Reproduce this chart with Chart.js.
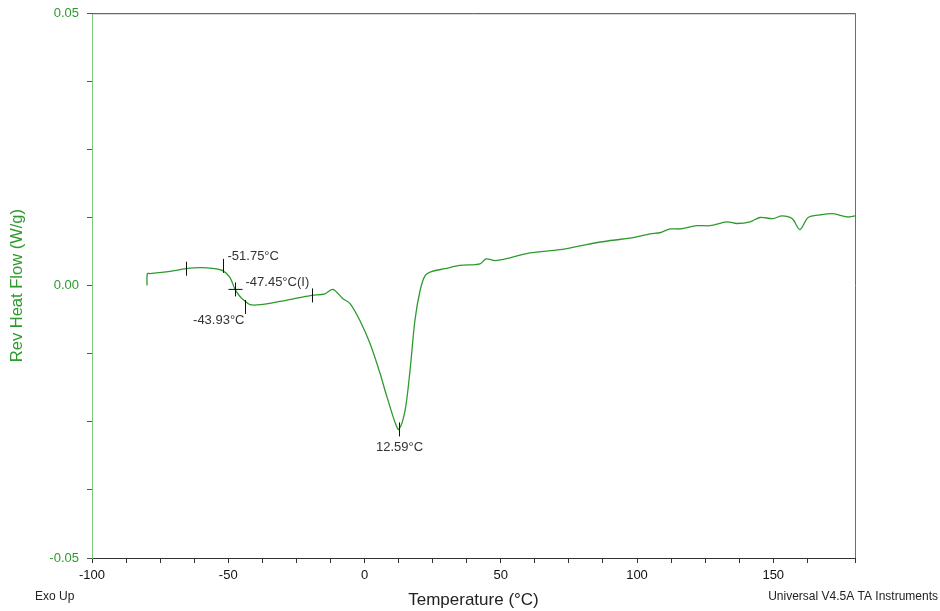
<!DOCTYPE html>
<html>
<head>
<meta charset="utf-8">
<script src="https://cdn.jsdelivr.net/npm/chart.js@4.4.0/dist/chart.umd.min.js"></script>
<style>
  html, body { margin: 0; padding: 0; background: #fff; }
  #wrap { width: 940px; height: 611px; }
</style>
</head>
<body>
<div id="wrap"><canvas id="dscChart" width="940" height="611"></canvas></div>
<script>
// Temperature (°C) and reversing heat flow (W/g)
const temps = [-79.8, -79.7, -78.7, -71.4, -65.5, -60.4, -54.9, -51.9, -49.4, -47.5, -45.7, -44.2, -42.0, -38.3,
  -31.0, -23.7, -19.3, -14.5, -11.6, -7.9, -5.3, -1.7, 2.0, 5.7, 7.5, 9.4, 11.2, 12.6, 14.9, 16.7, 18.5, 20.4,
  22.2, 24.8, 29.5, 35.0, 42.4, 44.6, 47.9, 53.4, 60.7, 71.7, 79.1, 86.4, 98.5, 104.8, 108.4, 112.1, 115.8,
  122.0, 126.8, 133.0, 136.7, 141.5, 145.1, 149.9, 153.2, 156.9, 159.8, 162.8, 167.2, 171.9, 177.1, 180.0];
const heatFlow = [0.0000, 0.0022, 0.0022, 0.0026, 0.0031, 0.0033, 0.0031, 0.0027, 0.0015, -0.0007, -0.0020,
  -0.0027, -0.0035, -0.0035, -0.0029, -0.0022, -0.0018, -0.0015, -0.0007, -0.0024, -0.0033, -0.0064, -0.0106,
  -0.0161, -0.0192, -0.0223, -0.0251, -0.0264, -0.0229, -0.0156, -0.0064, -0.0009, 0.0018, 0.0026, 0.0031,
  0.0037, 0.0040, 0.0049, 0.0046, 0.0051, 0.0060, 0.0066, 0.0073, 0.0080, 0.0088, 0.0095, 0.0097, 0.0104,
  0.0104, 0.0110, 0.0110, 0.0117, 0.0114, 0.0117, 0.0125, 0.0123, 0.0128, 0.0123, 0.0103, 0.0125, 0.0130,
  0.0132, 0.0126, 0.0128];

// analysis markers: temperature, heat flow, kind
const markerTemps = [-65.5, -51.75, -47.45, -43.93, -19.3, 12.59];
const markerFlows = [0.0031, 0.0027, -0.0007, -0.0030, -0.0018, -0.0264];
const markerKinds = ['tick', 'tick', 'cross', 'tick', 'tick', 'tick'];
const markerLabels = ['', '-51.75°C', '-47.45°C(I)', '-43.93°C', '', '12.59°C'];

const xTickLabels = [-100, -50, 0, 50, 100, 150];
const yTickLabels = [-0.05, 0.00, 0.05];

const green = '#2e9a2e';
const font = "'Liberation Sans', Arial, sans-serif";

const points = temps.map((t, i) => ({ x: t, y: heatFlow[i] }));

const annotations = {
  id: 'annotations',
  afterDatasetsDraw(chart) {
    const ctx = chart.ctx;
    const xs = chart.scales.x, ys = chart.scales.y;
    const a = chart.chartArea;
    ctx.save();
    // frame: top dark, right green
    ctx.lineWidth = 1;
    ctx.strokeStyle = '#444';
    ctx.beginPath(); ctx.moveTo(a.left, a.top + 0.5); ctx.lineTo(a.right, a.top + 0.5); ctx.stroke();
    ctx.strokeStyle = green;
    ctx.beginPath(); ctx.moveTo(a.right + 0.5, a.top); ctx.lineTo(a.right + 0.5, a.bottom); ctx.stroke();

    ctx.strokeStyle = '#111';
    ctx.fillStyle = '#333';
    ctx.font = '13px ' + font;
    markerTemps.forEach((t, i) => {
      const px = Math.round(xs.getPixelForValue(t)) + 0.5;
      const py = ys.getPixelForValue(markerFlows[i]);
      ctx.beginPath();
      if (markerKinds[i] === 'cross') {
        ctx.moveTo(px, py - 7); ctx.lineTo(px, py + 7);
        ctx.moveTo(px - 7, py); ctx.lineTo(px + 7, py);
      } else if (i === 1) {
        ctx.moveTo(px, py - 12); ctx.lineTo(px, py + 2);
      } else if (i === 3) {
        ctx.moveTo(px, py - 2); ctx.lineTo(px, py + 12);
      } else {
        ctx.moveTo(px, py - 7); ctx.lineTo(px, py + 7);
      }
      ctx.stroke();
      const label = markerLabels[i];
      if (!label) return;
      if (i === 1) {
        ctx.textAlign = 'left'; ctx.textBaseline = 'middle';
        ctx.fillText(label, px + 4, py - 14);
      } else if (i === 2) {
        ctx.textAlign = 'left'; ctx.textBaseline = 'middle';
        ctx.fillText(label, px + 10, py - 7);
      } else if (i === 3) {
        ctx.textAlign = 'right'; ctx.textBaseline = 'middle';
        ctx.fillText(label, px - 1, py + 18);
      } else {
        ctx.textAlign = 'center'; ctx.textBaseline = 'middle';
        ctx.fillText(label, px, py + 18);
      }
    });

    // footer notes
    ctx.fillStyle = '#222';
    ctx.font = '12px ' + font;
    ctx.textBaseline = 'middle';
    ctx.textAlign = 'left';
    ctx.fillText('Exo Up', 35, 597);
    ctx.textAlign = 'right';
    ctx.fillText('Universal V4.5A TA Instruments', 938, 597);
    ctx.restore();
  }
};

new Chart(document.getElementById('dscChart'), {
  type: 'line',
  data: {
    datasets: [{
      data: points,
      borderColor: green,
      borderWidth: 1.3,
      pointRadius: 0,
      tension: 0.3,
      fill: false
    }]
  },
  options: {
    responsive: false,
    animation: false,
    layout: { padding: { top: 12, right: 85, left: 0, bottom: 0 } },
    plugins: { legend: { display: false }, tooltip: { enabled: false } },
    scales: {
      x: {
        type: 'linear',
        min: -100,
        max: 180,
        afterFit(scale) { scale.height = 53; },
        border: { color: '#333', width: 1 },
        grid: { drawOnChartArea: false, tickLength: 5, color: '#333' },
        ticks: {
          stepSize: 12.5,
          autoSkip: false,
          maxRotation: 0,
          color: '#111',
          font: { family: font, size: 13 },
          padding: 5,
          callback: v => xTickLabels.includes(v) ? String(v) : ''
        },
        title: {
          display: true,
          text: 'Temperature (°C)',
          color: '#222',
          font: { family: font, size: 17 },
          padding: { top: 4, bottom: 0 }
        }
      },
      y: {
        min: -0.05,
        max: 0.05,
        afterFit(scale) { scale.width = 92; },
        border: { color: '#7fc97f', width: 1 },
        grid: { drawOnChartArea: false, tickLength: 5, color: '#555' },
        ticks: {
          stepSize: 0.0125,
          autoSkip: false,
          color: green,
          font: { family: font, size: 13, lineHeight: 0.8 },
          padding: 8,
          callback: v => {
            const hit = yTickLabels.find(t => Math.abs(t - v) < 1e-9);
            return hit === undefined ? '' : hit.toFixed(2);
          }
        },
        title: {
          display: true,
          text: 'Rev Heat Flow (W/g)',
          color: green,
          font: { family: font, size: 16.5 },
          padding: { top: 8, bottom: 0 }
        }
      }
    }
  },
  plugins: [annotations]
});
</script>
</body>
</html>
